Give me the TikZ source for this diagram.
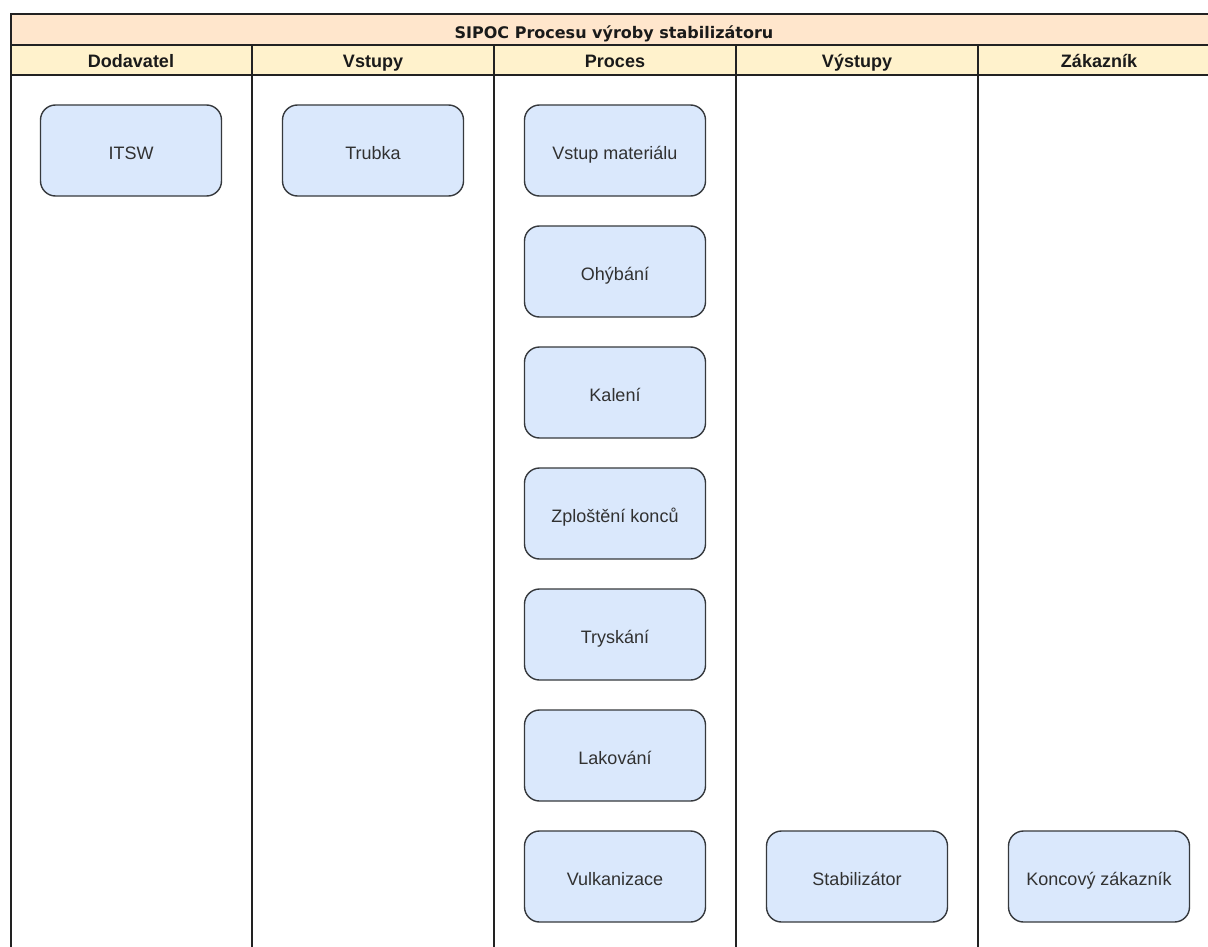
\documentclass[tikz,border=0pt]{standalone}
\usepackage{fontspec}
\setmainfont{Liberation Sans}
\newfontfamily\titlefont{DejaVu Sans}
\definecolor{titlefill}{HTML}{FFE6CC}
\definecolor{headfill}{HTML}{FFF2CC}
\definecolor{boxfill}{HTML}{DAE8FC}
\definecolor{boxline}{HTML}{36393D}
\definecolor{laneline}{HTML}{222222}
\definecolor{txt}{HTML}{1A1A1A}
\tikzset{
  lane/.style={draw=laneline, line width=1.8pt},
  headtext/.style={font=\fontsize{18}{21}\selectfont\bfseries, text=txt, anchor=base},
  stepbox/.style={draw=boxline, fill=boxfill, line width=1.4pt, rounded corners=15pt,
    minimum width=181pt, minimum height=91pt, inner sep=0pt,
    text height=20pt, text depth=2pt,
    font=\fontsize{18}{21}\selectfont, text=txt!90},
}
\begin{document}
\begin{tikzpicture}[x=1pt,y=-1pt]
\useasboundingbox (0,0) rectangle (1208,947);
\clip (0,0) rectangle (1208,947);
\fill[white] (0,0) rectangle (1208,947);
% title and header bands
\fill[titlefill] (11,14) rectangle (1222,45);
\fill[headfill] (11,45) rectangle (1222,75);
% lane frame
\draw[lane] (11,960) -- (11,14) -- (1222,14);
\draw[lane] (11,45) -- (1222,45);
\draw[lane] (11,75) -- (1222,75);
\foreach \x in {252,494,736,978}
  \draw[lane] (\x,45) -- (\x,960);
% title
\node[font=\titlefont\fontsize{16}{19}\selectfont\bfseries, text=txt, anchor=base] (title) at (614,39) {SIPOC Procesu výroby stabilizátoru};
% column headers
\node[headtext] (hS) at (131,68) {Dodavatel};
\node[headtext] (hI) at (373,68) {Vstupy};
\node[headtext] (hP) at (615,68) {Proces};
\node[headtext] (hO) at (857,68) {Výstupy};
\node[headtext] (hC) at (1099,68) {Zákazník};
% suppliers and inputs
\node[stepbox] (itsw) at (131,150.5) {ITSW};
\node[stepbox] (trubka) at (373,150.5) {Trubka};
% process steps
\node[stepbox] (p1) at (615,150.5) {Vstup materiálu};
\node[stepbox] (p2) at (615,271.5) {Ohýbání};
\node[stepbox] (p3) at (615,392.5) {Kalení};
\node[stepbox] (p4) at (615,513.5) {Zploštění konců};
\node[stepbox] (p5) at (615,634.5) {Tryskání};
\node[stepbox] (p6) at (615,755.5) {Lakování};
\node[stepbox] (p7) at (615,876.5) {Vulkanizace};
% output and customer
\node[stepbox] (out) at (857,876.5) {Stabilizátor};
\node[stepbox] (cust) at (1099,876.5) {Koncový zákazník};
\end{tikzpicture}
\end{document}
